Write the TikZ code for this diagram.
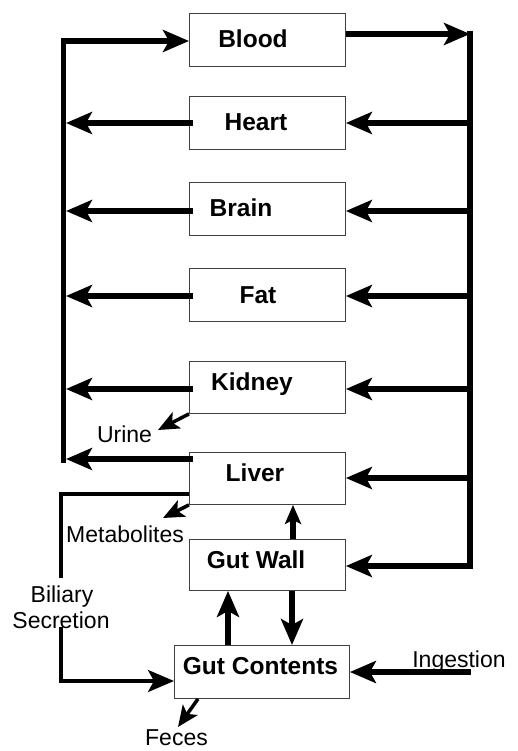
\documentclass[tikz,border=0pt]{standalone}
\usepackage{fontspec}
\setmainfont{Liberation Sans}
\usetikzlibrary{arrows.meta}
\tikzset{
  box/.style={draw=black!75, line width=0.9pt, minimum width=156pt, minimum height=53pt, inner sep=0pt, anchor=north west},
  btxt/.style={font=\fontsize{24.5}{28}\selectfont\bfseries, anchor=base, inner sep=0pt},
  rtxt/.style={font=\fontsize{23}{27}\selectfont, anchor=base, inner sep=0pt},
  heavy/.style={line width=5.5pt},
  slim/.style={line width=3.5pt},
  bighead/.style={-{Stealth[length=26pt,width=22pt,inset=6pt]}},
  midhead/.style={-{Stealth[length=21pt,width=18pt,inset=5pt]}},
  smallhead/.style={-{Stealth[length=19pt,width=16pt,inset=4pt]}},
}
\begin{document}
\begin{tikzpicture}[x=1pt,y=-1pt]
\useasboundingbox (0,0) rectangle (518,751);
% boxes
\node[box] (blood)  at (189,13)  {};
\node[box] (heart)  at (189,96)  {};
\node[box] (brain)  at (189,182) {};
\node[box] (fat)    at (189,268) {};
\node[box, minimum height=52pt] (kidney) at (189,361) {};
\node[box, minimum height=52pt] (liver)  at (189,452) {};
\node[box, minimum height=51pt] (gutwall) at (189,539) {};
\node[box, minimum width=175pt] (gutc) at (174,645) {};
% box texts
\node[btxt] (bloodT)  at (253,48)  {Blood};
\node[btxt] (heartT)  at (256,131) {Heart};
\node[btxt] (brainT)  at (241,216) {Brain};
\node[btxt] (fatT)    at (258,303) {Fat};
\node[btxt] (kidneyT) at (252,390) {Kidney};
\node[btxt] (liverT)  at (255,481) {Liver};
\node[btxt] (gutwallT) at (256,568) {Gut Wall};
\node[btxt] (gutcT)   at (260.5,674) {Gut Contents};
% other labels
\node[rtxt] (urineT) at (124.5,442) {Urine};
\node[rtxt] (metT)   at (125,542) {Metabolites};
\node[rtxt] (bilT)   at (62,602) {Biliary};
\node[rtxt] (secT)   at (61,628) {Secretion};
\node[rtxt] (ingT)   at (459,667) {Ingestion};
\node[rtxt] (fecT)   at (176.5,745) {Feces};
% trunk coordinates
\coordinate (LB) at (63.5,463);
\coordinate (LT) at (63.5,41);
\coordinate (RT0) at (470,31);
\coordinate (RT) at (470,34);
\coordinate (RB) at (470,566);
% left trunk into blood
\draw[heavy,bighead] (LB) |- (blood.west |- LT);
% blood out to right trunk
\draw[heavy,bighead] (blood.east |- RT) -- (RT);
% right trunk and gut wall
\draw[heavy,bighead] (RT0) |- (gutwall.east |- RB);
% right arrows into organs
\draw[heavy,bighead] (RT |- 0,123) -- (heart.east |- 0,123);
\draw[heavy,bighead] (RT |- 0,211) -- (brain.east |- 0,211);
\draw[heavy,bighead] (RT |- 0,296) -- (fat.east |- 0,296);
\draw[heavy,bighead] (RT |- 0,389) -- (kidney.east |- 0,389);
\draw[heavy,bighead] (RT |- 0,478) -- (liver.east |- 0,478);
% left arrows out of organs
\coordinate (Lh) at (66,123);
\coordinate (Lb) at (66,211);
\coordinate (Lf) at (66,296);
\coordinate (Lk) at (66,389);
\coordinate (Ll) at (66,459);
\draw[heavy,bighead] ([xshift=4pt]heart.west |- Lh) -- (Lh);
\draw[heavy,bighead] ([xshift=4pt]brain.west |- Lb) -- (Lb);
\draw[heavy,bighead] ([xshift=4pt]fat.west |- Lf) -- (Lf);
\draw[heavy,bighead] ([xshift=4pt]kidney.west |- Lk) -- (Lk);
\draw[heavy,bighead] ([xshift=4pt]liver.west |- Ll) -- (Ll);
% gut arrows
\draw[heavy,smallhead] (gutwall.north -| 293,0) -- (liver.south -| 293,0);
\draw[heavy,bighead] (gutwall.south -| 292,0) -- (gutc.north -| 292,0);
\draw[heavy,bighead] (gutc.north -| 228,0) -- (gutwall.south -| 228,0);
% ingestion
\coordinate (ing) at (471,672);
\draw[heavy,bighead] (ing) -- (gutc.east |- ing);
% biliary secretion
\coordinate (b1) at (61,578);
\coordinate (b2) at (61,627);
\draw[slim] (liver.west |- 0,494) -| (b1);
\draw[slim,bighead] (b2) |- (gutc.west |- 0,681);
% urine, metabolites, feces
\coordinate (ut) at (158,430);
\coordinate (mt) at (163,518);
\coordinate (ft) at (178,727);
\draw[slim,midhead] (kidney.south west) -- (ut);
\draw[slim,midhead] (liver.south west) -- (mt);
\draw[slim,midhead] (gutc.south -| 198,0) -- (ft);
\end{tikzpicture}
\end{document}
